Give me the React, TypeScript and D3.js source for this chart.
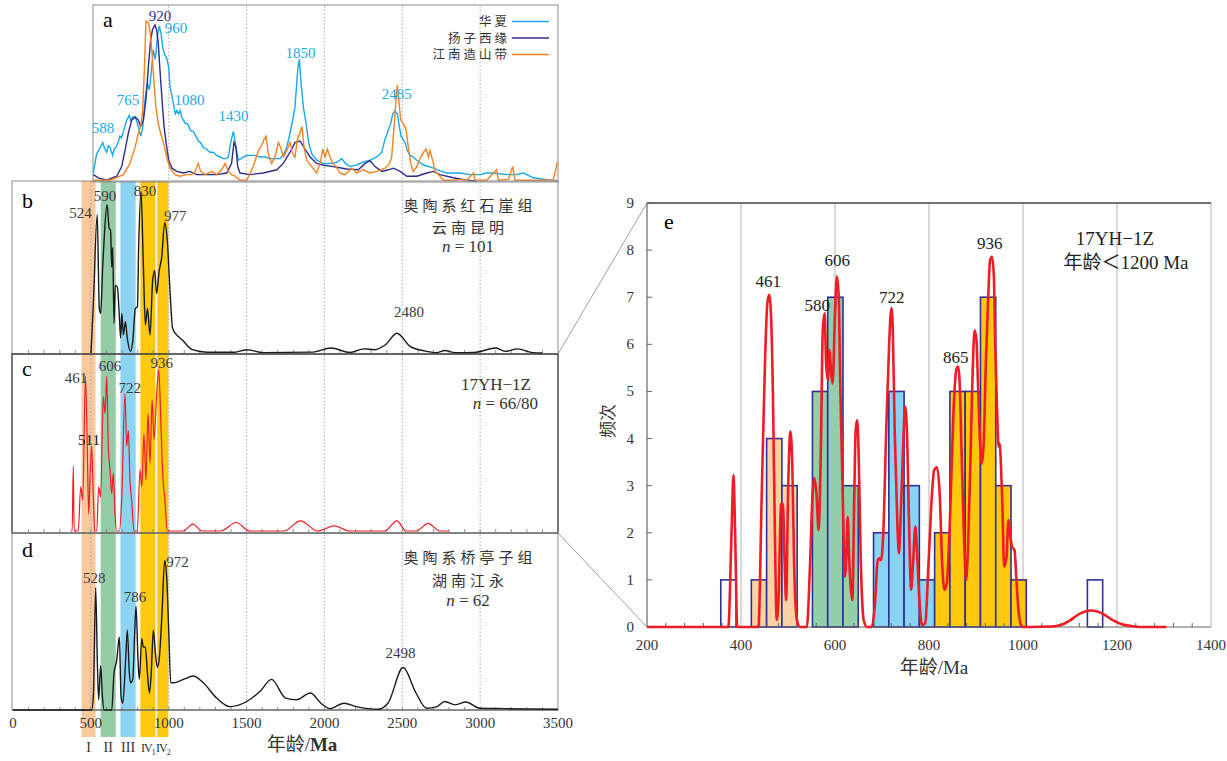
import React from "react";
import * as d3 from "d3";

type P = [number, number];

const SERIF = "'Liberation Serif','Times New Roman','Noto Sans CJK SC',serif";

// panel a – three source regions (relative probability, 0–100)
const huaxia: P[] = [[516,5],[537,17],[556,20],[576,24],[590,20],[602,18],[612,22],[623,21],[640,16],[650,20],[662,21],[675,24],[687,28],[697,27],[709,31],[718,34],[730,38],[747,41],[756,38],[769,40],[786,40],[795,37],[805,34],[820,28],[833,33],[848,51],[863,61],[876,57],[891,71],[901,82],[914,76],[927,90],[940,97],[951,92],[961,84],[974,79],[987,77],[1000,71],[1008,59],[1025,51],[1042,42],[1052,44],[1064,42],[1074,44],[1083,40],[1095,38],[1105,36],[1116,36],[1126,35],[1137,32],[1148,31],[1158,31],[1169,29],[1180,27],[1190,25],[1205,24],[1222,21],[1240,20],[1265,18],[1285,18],[1308,16],[1330,15],[1351,14],[1370,14],[1383,15],[1398,24],[1415,31],[1424,26],[1432,21],[1447,13],[1465,14],[1479,15],[1500,16],[1522,16],[1550,16],[1587,15],[1620,15],[1651,14],[1690,14],[1715,14],[1740,17],[1758,21],[1770,26],[1779,30],[1796,38],[1811,46],[1822,61],[1830,71],[1839,76],[1850,61],[1865,46],[1882,36],[1899,24],[1918,17],[1950,13],[1993,11],[2025,11],[2057,11],[2085,12],[2111,14],[2135,11],[2164,9],[2207,10],[2250,12],[2293,13],[2336,15],[2368,18],[2389,26],[2411,32],[2426,36],[2439,42],[2453,44],[2468,42],[2481,34],[2492,28],[2505,26],[2518,24],[2532,19],[2550,16],[2570,15],[2593,13],[2636,10],[2700,8],[2750,6],[2786,5],[2830,5],[2871,5],[2935,4],[2999,4],[3040,5],[3085,5],[3170,4],[3230,4],[3278,5],[3342,2],[3449,0.5],[3500,0]];
const yangtze: P[] = [[516,4],[548,2],[602,0.5],[666,3],[698,9],[719,19],[741,30],[762,38],[784,40],[805,38],[820,34],[837,38],[854,51],[869,71],[884,88],[897,95],[912,97.5],[923,94],[933,86],[944,69],[957,51],[970,34],[983,24],[1000,13],[1021,8],[1051,6],[1094,5],[1137,6],[1180,4],[1244,4],[1308,4],[1372,5],[1404,11],[1419,24],[1432,21],[1443,9],[1458,5],[1522,4],[1608,5],[1694,7],[1736,11],[1779,18],[1811,24],[1843,25],[1875,20],[1908,15],[1950,11],[1990,10],[2057,9],[2143,7.5],[2218,7],[2261,11],[2293,12.7],[2325,9],[2368,6],[2411,7],[2443,8],[2486,6],[2529,3],[2593,3],[2657,5],[2700,6],[2742,4],[2828,2],[2914,0.5],[2978,0]];
const jiangnan: P[] = [[516,0.5],[623,0.5],[709,4],[751,11],[784,21],[805,30],[820,34],[833,44],[844,71],[854,100],[869,99],[880,94],[893,80],[906,61],[918,46],[933,36],[948,30],[966,24],[987,15],[1008,8],[1040,4],[1073,3],[1115,4],[1148,4],[1169,6],[1190,11],[1205,6],[1233,4],[1276,6],[1308,4],[1340,7],[1362,11],[1383,6],[1404,4],[1426,3],[1458,0.5],[1501,0.5],[1543,9],[1576,19],[1597,22],[1612,26],[1625,28],[1640,17],[1661,11],[1683,15],[1704,24],[1719,21],[1736,15],[1758,19],[1779,24],[1796,17],[1811,15],[1826,26],[1843,30],[1856,34],[1869,21],[1886,13],[1918,9],[1950,5],[1975,12],[1989,20],[2004,15],[2019,20],[2036,15],[2053,11],[2075,9],[2100,5],[2132,4],[2175,8],[2207,5],[2250,7],[2293,5],[2336,6],[2389,8],[2418,11],[2432,15],[2447,34],[2460,51],[2468,60],[2477,51],[2490,38],[2507,36],[2524,32],[2539,21],[2554,11],[2571,6],[2593,9],[2614,14],[2636,18],[2653,20],[2668,15],[2678,19],[2695,13],[2710,6],[2732,4],[2764,0.5],[2828,0.5],[2871,1],[2914,0.5],[2957,5],[2967,0.5],[3042,0.5],[3106,7],[3117,0.5],[3181,1],[3209,9],[3224,0.5],[3342,0.5],[3470,0.5],[3496,12]];

// panel b – Hongshiya Fm., Kunming
const curveB: P[] = [[501,0],[516,30],[541,84],[554,27],[563,24],[576,52],[587,72],[604,90],[617,76],[627,74],[634,52],[640,64],[649,18],[657,41],[670,40],[682,24],[691,9],[699,24],[709,11],[722,19],[734,9],[756,1],[769,7],[786,27],[799,28],[807,64],[822,98],[837,54],[850,17],[863,27],[880,11],[897,44],[910,50],[922,36],[939,50],[955,58],[974,79],[991,68],[1008,38],[1025,15],[1051,11],[1086,8],[1153,2],[1245,0.5],[1423,0.5],[1504,2],[1604,0.2],[1919,0.5],[2042,3],[2165,0.3],[2254,2.5],[2322,2],[2392,5],[2466,12],[2550,4],[2640,1.3],[2720,0.2],[2773,1.5],[2838,0.2],[2960,0.3],[3102,3],[3160,1],[3240,2.5],[3340,0.2],[3400,0]];

// panel c – sample 17YH-1Z
const curveC: P[] = [[370,0],[380,0],[387,38],[393,0],[419,0],[435,26],[448,18],[465,91],[477,50],[486,10],[494,30],[505,50],[516,20],[525,0],[538,0],[550,26],[563,20],[580,79],[591,69],[602,91],[612,50],[623,36],[634,22],[644,34],[655,10],[666,0],[683,0],[698,18],[719,81],[730,50],[741,59],[751,30],[762,18],[777,0],[798,0],[816,36],[827,26],[841,57],[854,30],[867,69],[880,40],[893,77],[906,54],[923,81],[936,95],[948,69],[961,34],[974,20],[991,0],[1093,0],[1154,4],[1215,0],[1334,0],[1433,5],[1520,0],[1740,0],[1847,6],[1955,0],[2064,3],[2160,0],[2387,0],[2466,6],[2523,0],[2590,0],[2666,4.5],[2740,0],[2800,0]];

// panel d – Qiaotingzi Fm., Jiangyong
const curveD: P[] = [[0,0],[505,0],[516,8],[531,72],[542,27],[550,6],[563,26],[574,8],[585,0],[634,0],[649,22],[666,29],[683,43],[694,8],[705,4],[722,27],[734,47],[747,22],[755,16],[769,18],[782,47],[790,61],[803,29],[811,18],[827,42],[837,37],[850,37],[863,22],[876,10],[888,22],[901,47],[914,34],[927,25],[940,31],[957,57],[974,88],[987,78],[1000,47],[1013,16],[1030,16],[1094,18],[1158,20],[1222,16],[1308,7],[1394,2],[1501,5],[1587,11],[1660,18],[1751,7],[1820,6],[1910,10],[1978,4],[2035,0.8],[2126,4],[2205,2],[2341,0.4],[2408,4],[2505,25],[2588,10],[2656,1],[2724,2],[2772,5],[2840,3],[2908,4.7],[2999,1],[3158,0.8],[3500,0.4]];

// panel e – histogram (bin 32.5 Ma from 357 Ma) and KDE
const binStart = 357;
const binWidth = 32.5;
const binCounts = [1,0,1,4,3,0,5,7,3,0,2,5,3,1,2,5,5,7,3,1,0,0,0,0,1];
const binGroup = ["n","","I","I","I","","II","II","II","","III","III","III","III","IV","IV","IV","IV","IV","IV","","","","","n"];
const curveE: P[] = [[200,0],[373,0],[380,2.06],[384,3.23],[387.4,2.06],[392,0],[405,0],[437,0],[444,2.77],[451,5.6],[456,6.87],[460,7.05],[463,6.8],[468,4.9],[472,2.06],[476,0.15],[480,0.64],[485,2.6],[489,2.62],[493,1.35],[496,0.57],[500,2.77],[505,4.15],[509,3.5],[513,1.35],[519,0.15],[526,0],[540,0],[547,1.35],[552,2.77],[556,3.16],[561,2.77],[565,2.06],[570,3.83],[574,6.3],[578,6.66],[581,5.6],[585,5.24],[588,5.88],[592,5.38],[595,5.17],[600,6.66],[604,7.44],[608,7.0],[611,5.24],[615,3.47],[618,2.06],[621,1.07],[624,1.49],[627,2.34],[630,1.49],[634,0.79],[637,0.57],[641,2.77],[644,4.18],[647,4.39],[650,3.83],[655,1.35],[661,0.15],[668,0],[678,0],[686,0.64],[690,1.35],[693,1.46],[698,1.42],[703,2.06],[709,4.18],[715,5.95],[720,6.77],[723,6.3],[727,4.18],[732,2.41],[736,1.56],[740,2.41],[745,3.83],[749,4.68],[753,4.18],[757,2.41],[762,0.79],[766,1.35],[771,2.13],[774,1.7],[780,0.5],[785,0.04],[792,0.08],[799,1.35],[806,2.77],[811,3.33],[817,3.39],[823,2.77],[828,1.35],[833,0.79],[838,0.93],[845,2.41],[852,4.54],[858,5.46],[862,5.53],[865,5.24],[869,3.83],[874,2.06],[879,1.0],[883,1.7],[888,3.47],[893,5.46],[897,6.3],[901,6.1],[904,5.24],[908,4.04],[912,3.47],[916,3.83],[921,5.6],[926,7.01],[930,7.79],[934,7.86],[938,7.44],[941,5.95],[945,4.54],[948,3.83],[950,3.9],[953,3.47],[956,2.62],[960,1.28],[965,1.49],[969,2.27],[973,1.92],[977,1.7],[982,1.63],[986,1.0],[991,0.29],[998,0],[1016,0],[1060,0.01],[1080,0.04],[1100,0.14],[1120,0.28],[1145,0.35],[1170,0.28],[1190,0.15],[1210,0.06],[1230,0.02],[1250,0],[1305,0]];

// age groups (bands)
const bands = [
  { id: "I", from: 440, to: 530 },
  { id: "II", from: 563, to: 660 },
  { id: "III", from: 690, to: 788 },
  { id: "IV1", from: 818, to: 915 },
  { id: "IV2", from: 926, to: 998 },
];
const bandColor: Record<string, string> = { I: "#f9c99c", II: "#93cca7", III: "#8dd4f2", IV1: "#ffc910", IV2: "#ffc910" };
const barColor: Record<string, string> = { n: "none", I: "#fdd2a6", II: "#93cfab", III: "#89d4f5", IV: "#ffc80c" };

// peak labels [text, age, value]
const peaksA: [string, number, number, string][] = [["588",578,30,"c"],["765",739,47.5,"c"],["920",944,100.3,"y"],["960",1047,92.5,"c"],["1080",1134,47.5,"c"],["1430",1416,37.5,"c"],["1850",1847,77,"c"],["2485",2465,51,"c"]];
const peaksB: [string, number, number][] = [["524",434,82],["590",591,92],["830",848,95],["977",1042,80],["2480",2543,22]];
const peaksC: [string, number, number][] = [["461",404,87],["606",623,94],["722",749,81],["936",955,96]];
const peaksD: [string, number, number][] = [["528",522,75],["786",784,63.5],["972",1057,84],["2498",2489,30.6]];
const peaksE: [string, number, number][] = [["461",458,7.22],["580",562,6.71],["606",605,7.66],["722",721,6.87],["865",857,5.6],["936",929,8.02]];

const mainTicks = [0,500,1000,1500,2000,2500,3000,3500];
const gridAges = [500,1000,1500,2000,2500,3000];
const eTicksX = [200,400,600,800,1000,1200,1400];
const eTicksY = [0,1,2,3,4,5,6,7,8,9];

const legendA = [
  { name: "华夏", color: "#1aa9e6", data: huaxia },
  { name: "扬子西缘", color: "#2e2d8f", data: yangtze },
  { name: "江南造山带", color: "#f58220", data: jiangnan },
];

export default function App() {
  const xM = d3.scaleLinear().domain([0, 3500]).range([13, 558]);
  const yA = d3.scaleLinear().domain([0, 100]).range([181, 21]);
  const yB = d3.scaleLinear().domain([0, 100]).range([353, 188]);
  const yC = d3.scaleLinear().domain([0, 100]).range([531, 361]);
  const yD = d3.scaleLinear().domain([0, 100]).range([710, 540]);
  const xE = d3.scaleLinear().domain([200, 1400]).range([647, 1211]);
  const yE = d3.scaleLinear().domain([0, 9]).range([627, 203]);

  const lineA = d3.line<P>().x(d => xM(d[0])).y(d => yA(d[1]));
  const smooth = (y: d3.ScaleLinear<number, number>) =>
    d3.line<P>().x(d => xM(d[0])).y(d => y(d[1])).curve(d3.curveMonotoneX);
  const lineE = d3.line<P>().x(d => xE(d[0])).y(d => yE(d[1])).curve(d3.curveMonotoneX);

  const minor = d3.range(100, 3500, 100);
  const eMinor = d3.range(240, 1400, 40).filter(v => v % 200 !== 0);
  const grey = "#8c8c8c";
  const peakColor = "#3a3a3a";

  const panelGrid = (top: number, bottom: number, ages: number[]) =>
    ages.map(a => (
      <line key={`g${top}-${a}`} x1={xM(a)} x2={xM(a)} y1={top} y2={bottom}
        stroke="#999" strokeWidth={0.8} strokeDasharray="1.5,2" />
    ));
  const panelTicks = (bottom: number) =>
    minor.map(a => (
      <line key={`t${bottom}-${a}`} x1={xM(a)} x2={xM(a)} y1={bottom} y2={bottom - 3} stroke="#777" strokeWidth={0.8} />
    ));
  const peakText = (list: [string, number, number][], y: d3.ScaleLinear<number, number>, key: string) =>
    list.map(([t, a, v]) => (
      <text key={key + t} x={xM(a)} y={y(v)} textAnchor="middle" fontSize={15} fill={peakColor}>{t}</text>
    ));

  return (
    <svg width={1227} height={761} style={{ position: "absolute", left: 0, top: 0, background: "#fff" }}
      fontFamily={SERIF}>
      <defs>
        <clipPath id="clipA"><rect x={93} y={5} width={465} height={177} /></clipPath>
      </defs>

      {/* colour bands */}
      {bands.map(b => (
        <rect key={b.id} x={xM(b.from)} y={181} width={xM(b.to) - xM(b.from)} height={556}
          fill={bandColor[b.id]} />
      ))}

      {/* panel a */}
      <rect x={93} y={5} width={465} height={177} fill="none" stroke={grey} strokeWidth={1} />
      {panelGrid(6, 181, gridAges.filter(a => a >= 1000))}
      <g clipPath="url(#clipA)">
        {legendA.map(s => (
          <path key={s.name} d={lineA(s.data) || ""} fill="none" stroke={s.color} strokeWidth={1.4} />
        ))}
      </g>
      <text x={103} y={27} fontSize={22}>a</text>
      {legendA.map((s, i) => (
        <g key={"lg" + s.name}>
          <text x={510} y={26 + i * 16.5} textAnchor="end" fontSize={12.5} fill="#333"
            style={{ letterSpacing: "3px" }}>{s.name}</text>
          <line x1={512} x2={549} y1={21.5 + i * 16.5} y2={21.5 + i * 16.5} stroke={s.color} strokeWidth={1.6} />
        </g>
      ))}
      {peaksA.map(([t, a, v, c]) => (
        <text key={"pa" + t} x={xM(a)} y={yA(v)} textAnchor="middle" fontSize={15}
          fill={c === "y" ? "#2e2d8f" : "#1aa9e6"}>{t}</text>
      ))}

      {/* panel b */}
      <rect x={12} y={181} width={546} height={173} fill="none" stroke={grey} strokeWidth={1} />
      {panelGrid(182, 353, gridAges)}
      {panelTicks(353)}
      <path d={smooth(yB)(curveB) || ""} fill="none" stroke="#1a1a1a" strokeWidth={1.4} />
      <text x={22} y={208} fontSize={22}>b</text>
      {peakText(peaksB, yB, "pb")}
      <text x={470} y={211} textAnchor="middle" fontSize={15} fill="#333" style={{ letterSpacing: "4px" }}>奥陶系红石崖组</text>
      <text x={470} y={233} textAnchor="middle" fontSize={15} fill="#333" style={{ letterSpacing: "4px" }}>云南昆明</text>
      <text x={468} y={252} textAnchor="middle" fontSize={17} fill="#333"><tspan fontStyle="italic">n</tspan> = 101</text>

      {/* panel c */}
      <rect x={12} y={354} width={546} height={179} fill="none" stroke="#333" strokeWidth={1.3} />
      {panelGrid(355, 532, gridAges)}
      {panelTicks(532)}
      <path d={smooth(yC)(curveC) || ""} fill="none" stroke="#ee1c25" strokeWidth={1.2} />
      <text x={22} y={376} fontSize={22}>c</text>
      {peakText(peaksC, yC, "pc")}
      <text x={xM(488)} y={yC(50.6)} textAnchor="middle" fontSize={15} fill="#111">511</text>
      <text x={531} y={390} textAnchor="end" fontSize={17} fill="#333">17YH−1Z</text>
      <text x={538} y={409} textAnchor="end" fontSize={17} fill="#333"><tspan fontStyle="italic">n</tspan> = 66/80</text>

      {/* panel d */}
      <rect x={12} y={533} width={546} height={177} fill="none" stroke={grey} strokeWidth={1} />
      {panelGrid(534, 709, gridAges)}
      {panelTicks(710)}
      <line x1={12} x2={558} y1={710} y2={710} stroke="#555" strokeWidth={1} />
      <path d={smooth(yD)(curveD) || ""} fill="none" stroke="#1a1a1a" strokeWidth={1.4} />
      <text x={22} y={557} fontSize={22}>d</text>
      {peakText(peaksD, yD, "pd")}
      <text x={470} y={563} textAnchor="middle" fontSize={15} fill="#333" style={{ letterSpacing: "4px" }}>奥陶系桥亭子组</text>
      <text x={470} y={586} textAnchor="middle" fontSize={15} fill="#333" style={{ letterSpacing: "4px" }}>湖南江永</text>
      <text x={468} y={606} textAnchor="middle" fontSize={17} fill="#333"><tspan fontStyle="italic">n</tspan> = 62</text>

      {/* main x axis */}
      {mainTicks.map(t => (
        <text key={"mt" + t} x={xM(t)} y={728} textAnchor="middle" fontSize={15} fill="#333">{t}</text>
      ))}
      <text x={302} y={751} textAnchor="middle" fontSize={19} fill="#333">年龄/<tspan fontWeight="bold">Ma</tspan></text>
      {bands.map(b => {
        const cx = xM((b.from + b.to) / 2);
        const base = b.id.startsWith("IV") ? "IV" : b.id;
        const sub = b.id.startsWith("IV") ? b.id.slice(2) : "";
        return (
          <text key={"r" + b.id} x={cx} y={752} textAnchor="middle" fontSize={sub ? 12 : 14} fill="#333"
            style={sub ? { letterSpacing: "-1px" } : undefined}>
            {base}{sub && <tspan fontSize={8} dy={3}>{sub}</tspan>}
          </text>
        );
      })}

      {/* connectors */}
      <line x1={558} y1={354} x2={647} y2={203} stroke="#888" strokeWidth={0.8} />
      <line x1={558} y1={533} x2={647} y2={627} stroke="#888" strokeWidth={0.8} />

      {/* panel e */}
      {eTicksX.filter(t => t > 200).map(t => (
        <line key={"eg" + t} x1={xE(t)} x2={xE(t)} y1={203} y2={627} stroke="#b5b5b5" strokeWidth={1} />
      ))}
      {binCounts.map((c, i) => c > 0 && (
        <rect key={"bar" + i} x={xE(binStart + i * binWidth)} y={yE(c)}
          width={xE(binStart + (i + 1) * binWidth) - xE(binStart + i * binWidth)} height={yE(0) - yE(c)}
          fill={barColor[binGroup[i]]} stroke="#2e3192" strokeWidth={1.6} />
      ))}
      <line x1={647} x2={1211} y1={203} y2={203} stroke="#444" strokeWidth={1.4} />
      <line x1={647} x2={647} y1={203} y2={627} stroke="#666" strokeWidth={1.2} />
      <line x1={647} x2={1211} y1={627} y2={627} stroke="#666" strokeWidth={1.2} />
      {eTicksY.map(t => (
        <g key={"ey" + t}>
          <line x1={647} x2={652} y1={yE(t)} y2={yE(t)} stroke="#666" />
          <text x={634} y={yE(t) + 5} textAnchor="end" fontSize={15} fill="#333">{t}</text>
        </g>
      ))}
      {eMinor.map(t => (
        <line key={"em" + t} x1={xE(t)} x2={xE(t)} y1={627} y2={623} stroke="#666" />
      ))}
      {eTicksX.map(t => (
        <text key={"ex" + t} x={xE(t)} y={650} textAnchor="middle" fontSize={15} fill="#333">{t}</text>
      ))}
      <path d={lineE(curveE) || ""} fill="none" stroke="#ee1c25" strokeWidth={2.6} />
      {peaksE.map(([t, a, v]) => (
        <text key={"pe" + t} x={xE(a)} y={yE(v)} textAnchor="middle" fontSize={17} fill="#222">{t}</text>
      ))}
      <text x={664} y={229} fontSize={22}>e</text>
      <text x={1115} y={245} textAnchor="middle" fontSize={19} fill="#222">17YH−1Z</text>
      <text x={1126} y={269} textAnchor="middle" fontSize={19} fill="#222">年龄＜1200 Ma</text>
      <text x={934} y={674} textAnchor="middle" fontSize={19} fill="#333">年龄/Ma</text>
      <text transform="translate(614,421) rotate(-90)" textAnchor="middle" fontSize={17} fill="#333">频次</text>
    </svg>
  );
}
